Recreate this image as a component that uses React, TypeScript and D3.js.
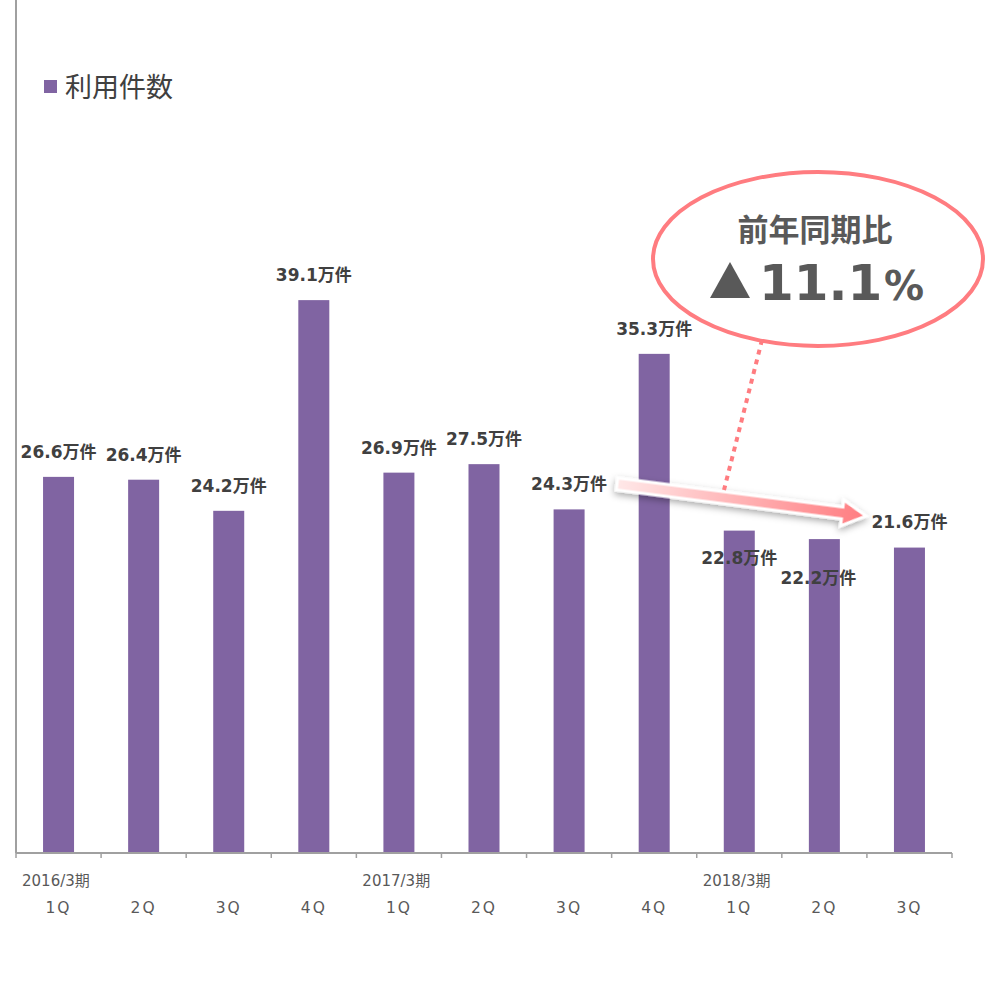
import React from "react";
import * as d3 from "d3";

const categories = ["1Q", "2Q", "3Q", "4Q", "1Q", "2Q", "3Q", "4Q", "1Q", "2Q", "3Q"];
const periods = ["2016/3期", "", "", "", "2017/3期", "", "", "", "2018/3期", "", ""];
const values = [26.6, 26.4, 24.2, 39.1, 26.9, 27.5, 24.3, 35.3, 22.8, 22.2, 21.6];
const labelDx = [0, 0, 0, 0, 0, 0, 0, 0, 0, -6, 0];
const labelDy = [-19, -19, -19, -19, -19, -19, -19, -19, 33, 45, -20];
const seriesName = "利用件数";
const calloutTitle = "前年同期比";
const calloutValue = "11.1";

const W = 986, H = 984;
const purple = "#8064A2";
const pink = "#FF7C80";
const FONT = "'DejaVu Sans', 'Noto Sans CJK JP', sans-serif";

export default function App() {
  const x0 = 16, x1 = 952, baseY = 853;
  const x = d3.scaleBand<number>().domain(d3.range(categories.length)).range([x0, x1]).paddingInner(0).paddingOuter(0);
  const y = d3.scaleLinear().domain([0, 60]).range([baseY, baseY - 60 * 14.14]);
  const bw = 31;
  const ticks = d3.range(categories.length + 1).map(i => x0 + i * x.bandwidth());

  // arrow geometry
  const ax1 = 617, ay1 = 484, ax2 = 866, ay2 = 516;
  const ang = Math.atan2(ay2 - ay1, ax2 - ax1) * 180 / Math.PI;
  const len = Math.hypot(ax2 - ax1, ay2 - ay1);
  const shaft = 6, headW = 13, headL = 24;
  const arrowPts = [
    [0, -shaft], [len - headL, -shaft], [len - headL, -headW], [len, 0],
    [len - headL, headW], [len - headL, shaft], [0, shaft],
  ].map(p => p.join(",")).join(" ");

  return (
    <svg width={W} height={H} style={{ position: "absolute", left: 0, top: 0, background: "#fff" }}
      fontFamily={FONT}>
      <defs>
        <linearGradient id="ag" x1="0" x2="1" y1="0" y2="0">
          <stop offset="0" stopColor="#FFE8E8" />
          <stop offset="1" stopColor={pink} />
        </linearGradient>
        <filter id="sh" x="-10%" y="-100%" width="120%" height="300%">
          <feDropShadow dx="0" dy="3" stdDeviation="3.5" floodColor="#000" floodOpacity="0.35" />
        </filter>
      </defs>
      <rect x={0} y={0} width={W} height={H} fill="#fff" />
      {/* y axis line */}
      <line x1={x0} x2={x0} y1={0} y2={baseY} stroke="#A0A0A0" strokeWidth={2} />
      {/* bars */}
      {values.map((v, i) => (
        <rect key={i} x={(x(i) as number) + x.bandwidth() / 2 - bw / 2} y={y(v)} width={bw} height={baseY - y(v)} fill={purple} />
      ))}
      {/* x axis */}
      <line x1={x0} x2={x1} y1={baseY} y2={baseY} stroke="#A0A0A0" strokeWidth={2} />
      {ticks.map((t, i) => (
        <line key={i} x1={t} x2={t} y1={baseY} y2={baseY + 5} stroke="#A0A0A0" strokeWidth={1.5} />
      ))}
      {categories.map((c, i) => (
        <text key={i} x={(x(i) as number) + x.bandwidth() / 2} y={913} textAnchor="middle" fontSize={15.5} fill="#595959" letterSpacing={2}>{c}</text>
      ))}
      {periods.map((p, i) => p ? (
        <text key={i} x={(x(i) as number) + 6} y={886} fontSize={15} fill="#595959">{p}</text>
      ) : null)}
      {/* value labels */}
      {values.map((v, i) => (
        <text key={i} x={(x(i) as number) + x.bandwidth() / 2 + labelDx[i]} y={y(v) + labelDy[i]} textAnchor="middle"
          fontSize={17} fontWeight="bold" fill="#404040">{v.toFixed(1)}万件</text>
      ))}
      {/* legend */}
      <rect x={44} y={80} width={13} height={13} fill={purple} />
      <text x={65} y={97} fontSize={27} fill="#404040" fontFamily="'Noto Sans CJK JP', sans-serif">{seriesName}</text>
      {/* trend arrow */}
      <g transform={`translate(${ax1},${ay1}) rotate(${ang})`} filter="url(#sh)">
        <polygon points={arrowPts} fill="url(#ag)" stroke="#fff" strokeWidth={3} strokeLinejoin="miter" />
      </g>
      {/* dotted leader */}
      <line x1={762} y1={340} x2={724} y2={490} stroke={pink} strokeWidth={4} strokeDasharray="5 5" />
      {/* callout ellipse */}
      <ellipse cx={818} cy={259} rx={165} ry={87} fill="#fff" stroke={pink} strokeWidth={4} />
      <text x={815} y={241} textAnchor="middle" fontSize={31} fontWeight="bold" fill="#595959"
        fontFamily="'Noto Sans CJK JP', sans-serif">{calloutTitle}</text>
      <path d="M710,298 L730,262 L750,298 Z" fill="#595959" />
      <text x={759} y={300} fontSize={50} fontWeight="bold" fill="#595959">{calloutValue}</text>
      <text x={884} y={300} fontSize={40} fontWeight="bold" fill="#595959">%</text>
    </svg>
  );
}
